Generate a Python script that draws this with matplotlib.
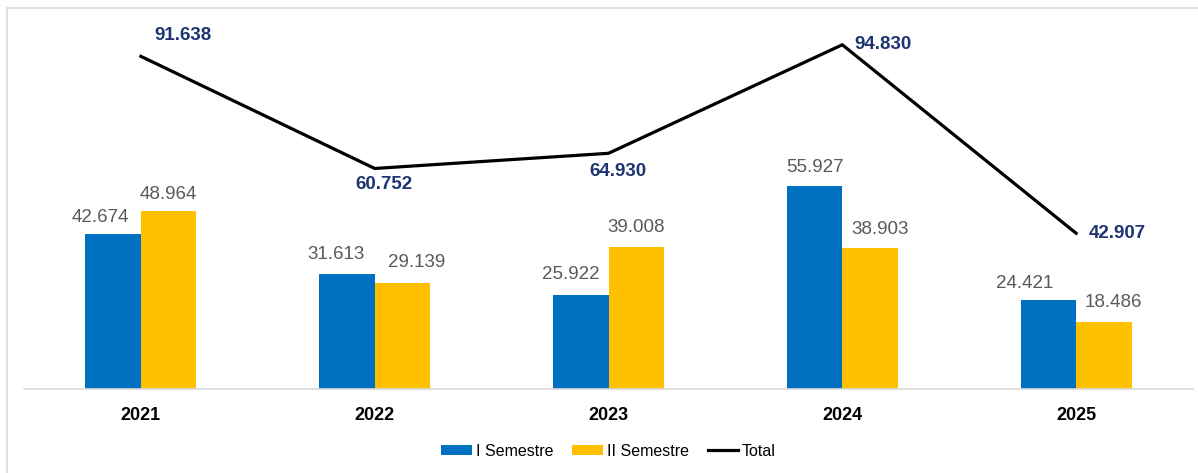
import matplotlib.pyplot as plt
import matplotlib.patches as mpatches
import numpy as np

years = ["2021", "2022", "2023", "2024", "2025"]
sem1 = [42.674, 31.613, 25.922, 55.927, 24.421]
sem2 = [48.964, 29.139, 39.008, 38.903, 18.486]
total = [91.638, 60.752, 64.930, 94.830, 42.907]

# hand-placed label offsets as in the original (pixels, right / up)
sem1_offsets = [(-13, 17), (-11, 20), (-10, 20), (0, 18), (-24, 17)]
sem2_offsets = [(0, 17), (14, 21), (0, 20), (10, 18), (10, 19)]
total_offsets = [(42, 21), (9, -16), (9, -18), (41, 0), (41, 0)]

font = ["Liberation Sans", "DejaVu Sans"]

fig = plt.figure(figsize=(11.98, 4.73), dpi=100)
ax = fig.add_axes([24 / 1198, 84 / 473, 1169 / 1198, 363 / 473])

x = np.arange(len(years))
w = 0.2375
b1 = ax.bar(x - w / 2, sem1, w, color="#0070C0", label="I Semestre")
b2 = ax.bar(x + w / 2, sem2, w, color="#FFC000", label="II Semestre")
ln, = ax.plot(x, total, color="black", linewidth=2.3, label="Total")

for bars, vals, offs in [(b1, sem1, sem1_offsets), (b2, sem2, sem2_offsets)]:
    for rect, v, off in zip(bars, vals, offs):
        ax.annotate(f"{v:.3f}", (rect.get_x() + rect.get_width() / 2, v),
                    xytext=off, textcoords="offset pixels",
                    ha="center", va="center", fontsize=13.5,
                    color="#595959", family=font)

for xi, v, off in zip(x, total, total_offsets):
    ax.annotate(f"{v:.3f}", (xi, v), xytext=off, textcoords="offset pixels",
                ha="center", va="center", fontsize=13.5, fontweight="bold",
                color="#1F3573", family=font)

ax.set_xlim(-0.5, len(years) - 0.5)
ax.set_ylim(0, 100)
ax.set_xticks(x)
ax.set_xticklabels(years, fontsize=13, fontweight="bold", family=font)
ax.tick_params(axis="x", length=0, pad=13)
ax.set_yticks([])
for s in ["top", "right", "left"]:
    ax.spines[s].set_visible(False)
ax.spines["bottom"].set_color("#D9D9D9")
ax.spines["bottom"].set_linewidth(1.2)

fig.legend(handles=[b1, b2, ln], loc="center", bbox_to_anchor=(0.508, 0.0465),
           ncol=3, frameon=False, prop={"family": font, "size": 11.5},
           handlelength=1.9, handleheight=0.55, handletextpad=0.25,
           columnspacing=1.2)

# outer chart border
fig.patches.append(mpatches.Rectangle((7 / 1198, -0.1), 1.2, (465 / 473) + 0.1,
                                      transform=fig.transFigure, fill=False,
                                      edgecolor="#D9D9D9", linewidth=1.2))

fig.savefig("out.png", dpi=100)
